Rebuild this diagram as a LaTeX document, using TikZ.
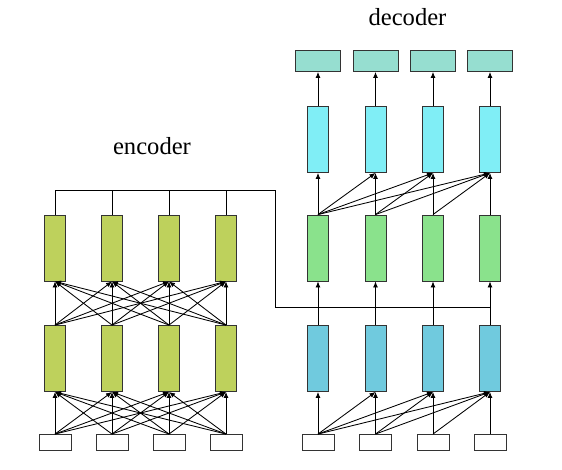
\documentclass[tikz,border=0pt]{standalone}
\usepackage{fontspec}
\setmainfont{Liberation Serif}
\usetikzlibrary{arrows.meta}
\definecolor{encC}{RGB}{190,209,92}
\definecolor{grnC}{RGB}{138,226,140}
\definecolor{cyaC}{RGB}{128,238,246}
\definecolor{bluC}{RGB}{112,202,222}
\definecolor{outC}{RGB}{150,222,208}
\begin{document}
\begin{tikzpicture}[x=1pt,y=-1pt,
  box/.style={draw=black!80,line width=0.9pt,inner sep=0pt,minimum width=21pt,minimum height=66pt},
  inbox/.style={draw=black!80,line width=0.9pt,inner sep=0pt,minimum width=32pt,minimum height=16pt,fill=white},
  outbox/.style={draw=black!80,line width=0.9pt,inner sep=0pt,minimum width=45pt,minimum height=21pt,fill=outC},
  arr/.style={-{Latex[length=6pt,width=5pt]},line width=0.85pt},
  ln/.style={line width=0.85pt},
  lbl/.style={font=\fontsize{24.6}{28}\selectfont,anchor=base,inner sep=0pt}]
\useasboundingbox (0,0) rectangle (562,470);
% encoder
\foreach \i/\x in {1/55,2/112,3/169,4/226}{
  \node[inbox] (ei\i) at (\x,442.5) {};
  \node[box,fill=encC] (eb\i) at (\x,358.5) {};
  \node[box,fill=encC] (et\i) at (\x,248) {};
}
% decoder
\foreach \i/\x in {1/318,2/375.5,3/433,4/490}{
  \node[inbox] (di\i) at (\x,442.5) {};
  \node[box,fill=bluC] (db\i) at (\x,358.5) {};
  \node[box,fill=grnC] (dg\i) at (\x,248) {};
  \node[box,fill=cyaC] (dc\i) at (\x,139.5) {};
  \node[outbox] (do\i) at (\x,61) {};
}
\node[lbl] (enc) at (152,155) {encoder};
\node[lbl] (dec) at (407.5,25.5) {decoder};
% encoder connections
\foreach \i in {1,...,4}{
  \foreach \j in {1,...,4}{
    \draw[arr] (ei\i.north) -- (eb\j.south);
    \draw[arr] (eb\i.north) -- (et\j.south);
  }
}
% context bus
\coordinate (bus) at (275,190);
\coordinate (busend) at (490,307.5);
\draw[ln] (et1.north) |- (bus) |- (busend);
\foreach \i in {2,3,4}{
  \draw[ln] (et\i.north) -- (et\i.north |- bus);
}
% decoder connections
\foreach \i in {1,...,4}{
  \foreach \j in {\i,...,4}{
    \draw[arr] (di\i.north) -- (db\j.south);
    \draw[arr] (dg\i.north) -- (dc\j.south);
  }
  \draw[arr] (db\i.north) -- (dg\i.south);
  \draw[arr] (dc\i.north) -- (do\i.south);
}
\end{tikzpicture}
\end{document}
